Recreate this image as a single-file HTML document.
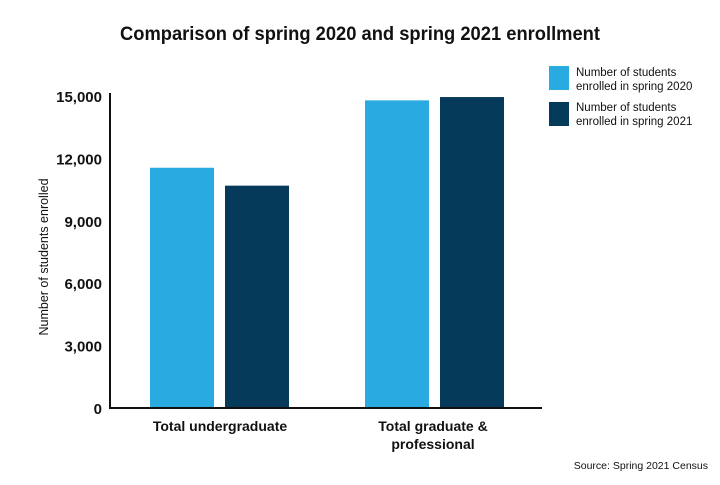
<!DOCTYPE html>
<html><head><meta charset="utf-8"><style>
body{margin:0;background:#fff;font-family:"Liberation Sans",sans-serif;}
svg text{font-family:"Liberation Sans",sans-serif;}
</style></head><body>
<svg width="720" height="480">
<text x="360" y="40" text-anchor="middle" font-size="19" font-weight="bold" fill="#111" textLength="480" lengthAdjust="spacingAndGlyphs">Comparison of spring 2020 and spring 2021 enrollment</text>
<text transform="translate(48,257) rotate(-90)" text-anchor="middle" font-size="12.5" fill="#111">Number of students enrolled</text>
<g id="ticks"></g>
<g id="bars"></g>
<line x1="110" y1="93" x2="110" y2="409" stroke="#111" stroke-width="2"/>
<line x1="109" y1="408" x2="542" y2="408" stroke="#111" stroke-width="2"/>
<text x="220" y="431" text-anchor="middle" font-size="14" font-weight="bold" fill="#111">Total undergraduate</text>
<text x="433" y="431" text-anchor="middle" font-size="14" font-weight="bold" fill="#111">Total graduate &amp;</text>
<text x="433" y="449" text-anchor="middle" font-size="14" font-weight="bold" fill="#111">professional</text>
<rect x="549" y="66" width="20" height="24" fill="#29abe2"/>
<text x="576" y="76" font-size="11.5" fill="#111"><tspan x="576">Number of students</tspan><tspan x="576" dy="14">enrolled in spring 2020</tspan></text>
<rect x="549" y="102" width="20" height="24" fill="#063a5a"/>
<text x="576" y="111" font-size="11.5" fill="#111"><tspan x="576">Number of students</tspan><tspan x="576" dy="14">enrolled in spring 2021</tspan></text>
<text x="708" y="469" text-anchor="end" font-size="10.5" fill="#111">Source: Spring 2021 Census</text>
</svg>
<script>
const categories=["Total undergraduate","Total graduate & professional"];
const spring2020=[11550,14790];
const spring2021=[10690,14950];
const tickValues=[0,3000,6000,9000,12000,15000];
const tickLabels=["0","3,000","6,000","9,000","12,000","15,000"];
const ns="http://www.w3.org/2000/svg";
function y(v){return 408-v*312/15000;}
const groupX=[150,365];
const tg=document.getElementById('ticks');
tickValues.forEach((v,i)=>{
 const t=document.createElementNS(ns,'text');
 t.setAttribute('x',102);t.setAttribute('y',y(v)+6);
 t.setAttribute('text-anchor','end');t.setAttribute('font-size','15');t.setAttribute('font-weight','bold');t.setAttribute('fill','#111');
 t.textContent=tickLabels[i];
 
 
 tg.appendChild(t);
});
const bg=document.getElementById('bars');
categories.forEach((c,i)=>{
 [[spring2020,'#29abe2',0,'2020'],[spring2021,'#063a5a',75,'2021']].forEach(s=>{
  const r=document.createElementNS(ns,'rect');
  const v=s[0][i];
  r.setAttribute('x',groupX[i]+s[2]);r.setAttribute('width',64);
  r.setAttribute('y',y(v));r.setAttribute('height',408-y(v));
  r.setAttribute('fill',s[1]);
  
  
  bg.appendChild(r);
 });
});
</script>
</body></html>
